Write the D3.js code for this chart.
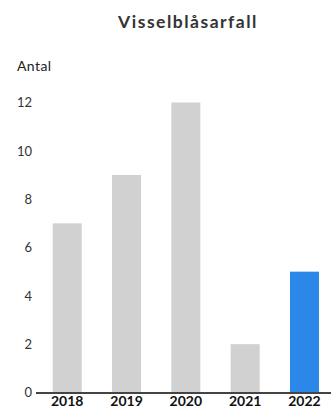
<!DOCTYPE html>
<html><head><meta charset="utf-8">
<script src="https://cdn.jsdelivr.net/npm/d3@7"></script>
<style>body{margin:0;background:#fff}svg{display:block}</style>
</head><body>
<svg id="c" width="331" height="410"></svg>
<script>
const title = "Visselblåsarfall";
const yLabel = "Antal";
const years = ["2018","2019","2020","2021","2022"];
const values = [7, 9, 12, 2, 5];
const yTicks = [0, 2, 4, 6, 8, 10, 12];
const highlight = "2022";

const svg = d3.select("#c");
const font = "Lato, 'Open Sans', sans-serif";
const x = d3.scaleBand().domain(years).range([37.9, 333.8]).paddingInner(0.511).paddingOuter(0.25);
const y = d3.scaleLinear().domain([0, 12]).range([392.5, 102.5]);

svg.append("text").attr("x", 188).attr("y", 28).attr("text-anchor", "middle")
  .attr("font-family", font).attr("font-weight", 700).attr("font-size", 17.5)
  .attr("fill", "#333").attr("letter-spacing", 1.5).text(title);
svg.append("text").attr("x", 17).attr("y", 71)
  .attr("font-family", font).attr("font-size", 14).attr("letter-spacing", 0.4).attr("fill", "#222").text(yLabel);

svg.append("g").selectAll("rect").data(years).join("rect")
  .attr("x", d => x(d)).attr("width", x.bandwidth())
  .attr("y", (d, i) => y(values[i])).attr("height", (d, i) => y(0) - y(values[i]))
  .attr("fill", d => d === highlight ? "#2b88e8" : "#d1d1d1");

const yAxis = svg.append("g").attr("transform", "translate(32,0)")
  .call(d3.axisLeft(y).tickValues(yTicks).tickSize(0).tickPadding(0));
yAxis.select(".domain").remove();
yAxis.selectAll("text").attr("font-family", font).attr("font-size", 13).attr("fill", "#333");

svg.append("line").attr("x1", 36).attr("x2", 331).attr("y1", y(0) + 0.5).attr("y2", y(0) + 0.5)
  .attr("stroke", "#444").attr("stroke-width", 2);

const xAxis = svg.append("g").attr("transform", `translate(0,${y(0) + 1})`)
  .call(d3.axisBottom(x).tickSize(0).tickPadding(3));
xAxis.select(".domain").remove();
xAxis.selectAll("text").attr("font-family", font).attr("font-weight", 700).attr("font-size", 14).attr("fill", "#111");
</script>
</body></html>
